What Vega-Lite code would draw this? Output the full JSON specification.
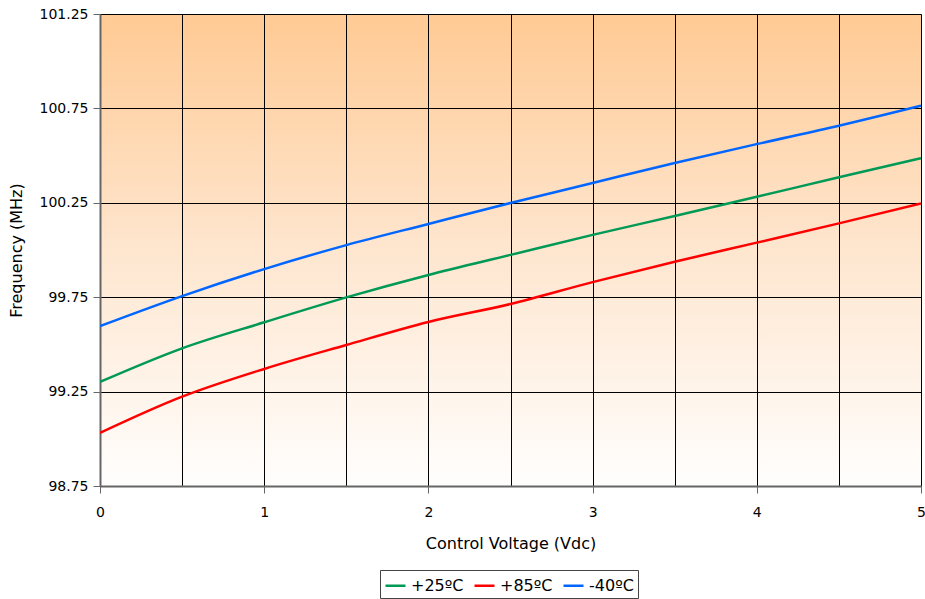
{
  "$schema": "https://vega.github.io/schema/vega-lite/v6.json",
  "width": 821,
  "height": 472,
  "autosize": "none",
  "padding": {"left": 100, "top": 14, "right": 4, "bottom": 113},
  "background": "white",
  "config": {
    "font": "DejaVu Sans",
    "view": {
      "stroke": "#999999",
      "fill": {"gradient": "linear", "x1": 0, "y1": 0, "x2": 0, "y2": 1,
        "stops": [{"offset": 0, "color": "#FFCA94"}, {"offset": 0.5, "color": "#FEE6CF"}, {"offset": 1, "color": "#FFFEFD"}]}
    },
    "axis": {
      "labelFont": "DejaVu Sans", "labelFontSize": 14, "labelColor": "#000000",
      "titleFont": "DejaVu Sans", "titleFontSize": 16, "titleFontWeight": "normal", "titleColor": "#000000",
      "gridColor": "#000000", "gridOpacity": 1, "gridWidth": 1,
      "domainColor": "#666666", "domainWidth": 2, "tickColor": "#666666", "tickWidth": 1
    }
  },
  "data": {
    "values": [
      {"v": 0, "f": 99.301, "s": "+25ºC"},
      {"v": 0.5, "f": 99.479, "s": "+25ºC"},
      {"v": 1, "f": 99.617, "s": "+25ºC"},
      {"v": 1.5, "f": 99.749, "s": "+25ºC"},
      {"v": 2, "f": 99.868, "s": "+25ºC"},
      {"v": 2.5, "f": 99.974, "s": "+25ºC"},
      {"v": 3, "f": 100.08, "s": "+25ºC"},
      {"v": 3.5, "f": 100.18, "s": "+25ºC"},
      {"v": 4, "f": 100.282, "s": "+25ºC"},
      {"v": 4.5, "f": 100.385, "s": "+25ºC"},
      {"v": 5, "f": 100.486, "s": "+25ºC"},
      {"v": 0, "f": 99.031, "s": "+85ºC"},
      {"v": 0.5, "f": 99.223, "s": "+85ºC"},
      {"v": 1, "f": 99.37, "s": "+85ºC"},
      {"v": 1.5, "f": 99.497, "s": "+85ºC"},
      {"v": 2, "f": 99.619, "s": "+85ºC"},
      {"v": 2.5, "f": 99.714, "s": "+85ºC"},
      {"v": 3, "f": 99.83, "s": "+85ºC"},
      {"v": 3.5, "f": 99.938, "s": "+85ºC"},
      {"v": 4, "f": 100.039, "s": "+85ºC"},
      {"v": 4.5, "f": 100.141, "s": "+85ºC"},
      {"v": 5, "f": 100.247, "s": "+85ºC"},
      {"v": 0, "f": 99.597, "s": "-40ºC"},
      {"v": 0.5, "f": 99.756, "s": "-40ºC"},
      {"v": 1, "f": 99.899, "s": "-40ºC"},
      {"v": 1.5, "f": 100.026, "s": "-40ºC"},
      {"v": 2, "f": 100.138, "s": "-40ºC"},
      {"v": 2.5, "f": 100.249, "s": "-40ºC"},
      {"v": 3, "f": 100.355, "s": "-40ºC"},
      {"v": 3.5, "f": 100.461, "s": "-40ºC"},
      {"v": 4, "f": 100.561, "s": "-40ºC"},
      {"v": 4.5, "f": 100.658, "s": "-40ºC"},
      {"v": 5, "f": 100.764, "s": "-40ºC"}
    ]
  },
  "mark": {"type": "line", "interpolate": "monotone", "strokeWidth": 2.5, "clip": true},
  "encoding": {
    "x": {
      "field": "v", "type": "quantitative",
      "scale": {"domain": [0, 5], "nice": false, "zero": false},
      "axis": {
        "title": "Control Voltage (Vdc)",
        "values": [0, 0.5, 1, 1.5, 2, 2.5, 3, 3.5, 4, 4.5, 5],
        "labelExpr": "datum.value % 1 === 0 ? format(datum.value, 'd') : ''",
        "tickSize": 7,
        "tickColor": {"condition": {"test": "datum.value % 1 !== 0", "value": "transparent"}, "value": "#666666"},
        "gridColor": "#000000",
        "gridOpacity": 1,
        "labelPadding": 12,
        "titlePadding": 16,
        "labelFlush": false
      }
    },
    "y": {
      "field": "f", "type": "quantitative",
      "scale": {"domain": [98.75, 101.25], "nice": false, "zero": false},
      "axis": {
        "title": "Frequency (MHz)",
        "values": [98.75, 99.25, 99.75, 100.25, 100.75, 101.25],
        "format": ".2f",
        "tickSize": 7,
        "labelPadding": 5,
        "titlePadding": 15,
        "labelFlush": false
      }
    },
    "color": {
      "field": "s", "type": "nominal",
      "scale": {"domain": ["+25ºC", "+85ºC", "-40ºC"], "range": ["#009955", "#FF0000", "#0066FF"]},
      "legend": {
        "title": null,
        "orient": "none",
        "legendX": 280,
        "legendY": 556,
        "direction": "horizontal",
        "symbolType": "stroke",
        "symbolStrokeWidth": 2.5,
        "symbolSize": 400,
        "labelFont": "DejaVu Sans",
        "labelFontSize": 16,
        "labelColor": "#000000",
        "strokeColor": "#444444",
        "fillColor": "#FFFFFF",
        "padding": 4,
        "columnPadding": 5,
        "labelOffset": 4
      }
    }
  }
}
